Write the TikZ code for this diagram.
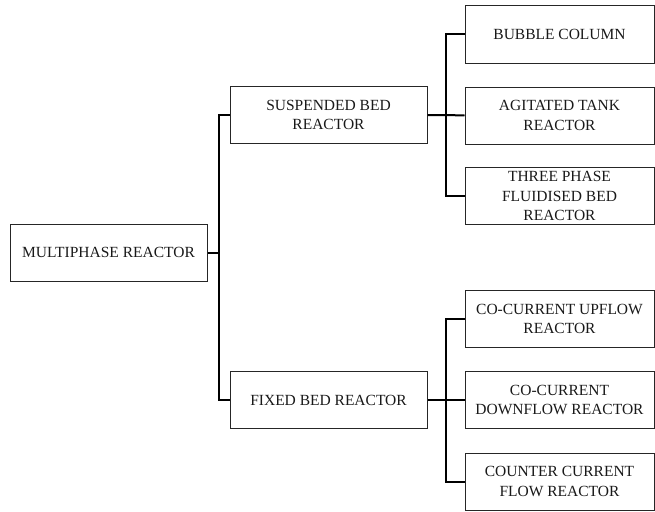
\documentclass[tikz,border=0pt]{standalone}
\usepackage{fontspec}
\setmainfont{Liberation Serif}
\begin{document}
\begin{tikzpicture}[x=1pt,y=-1pt,
  box/.style={draw=black!85,line width=1pt,rectangle,inner sep=0pt,align=center,
    font=\fontsize{15.5}{19.5}\selectfont,text=black!90,minimum height=57pt},
  lbox/.style={box,minimum width=197pt},
  rbox/.style={box,minimum width=189pt},
  conn/.style={draw=black,line width=2pt}]
\useasboundingbox (0,0) rectangle (655,511);
\node[lbox] (mp) at (108.5,252.5) {MULTIPHASE REACTOR};
\node[lbox] (sb) at (328.5,115) {SUSPENDED BED\\REACTOR};
\node[lbox] (fb) at (328.5,400) {FIXED BED REACTOR};
\node[rbox] (b1) at (559.5,34.5) {BUBBLE COLUMN};
\node[rbox] (b2) at (559.5,115.5) {AGITATED TANK\\REACTOR};
\node[rbox] (b3) at (559.5,196) {THREE PHASE\\FLUIDISED BED\\REACTOR};
\node[rbox] (b4) at (559.5,319) {CO-CURRENT UPFLOW\\REACTOR};
\node[rbox] (b5) at (559.5,400) {CO-CURRENT\\DOWNFLOW REACTOR};
\node[rbox] (b6) at (559.5,481.5) {COUNTER CURRENT\\FLOW REACTOR};
\coordinate (j1) at (219,252.5);
\coordinate (j2) at (446,115);
\coordinate (j3) at (446,400);
\draw[conn] (mp.east) -- (j1);
\draw[conn] (sb.west) -| (j1) |- (fb.west);
\draw[conn] (sb.east) -- (j2) -- (b2.west);
\draw[conn] (b1.west) -| (j2) |- (b3.west);
\draw[conn] (fb.east) -- (j3) -- (b5.west);
\draw[conn] (b4.west) -| (j3) |- (b6.west);
\end{tikzpicture}
\end{document}
